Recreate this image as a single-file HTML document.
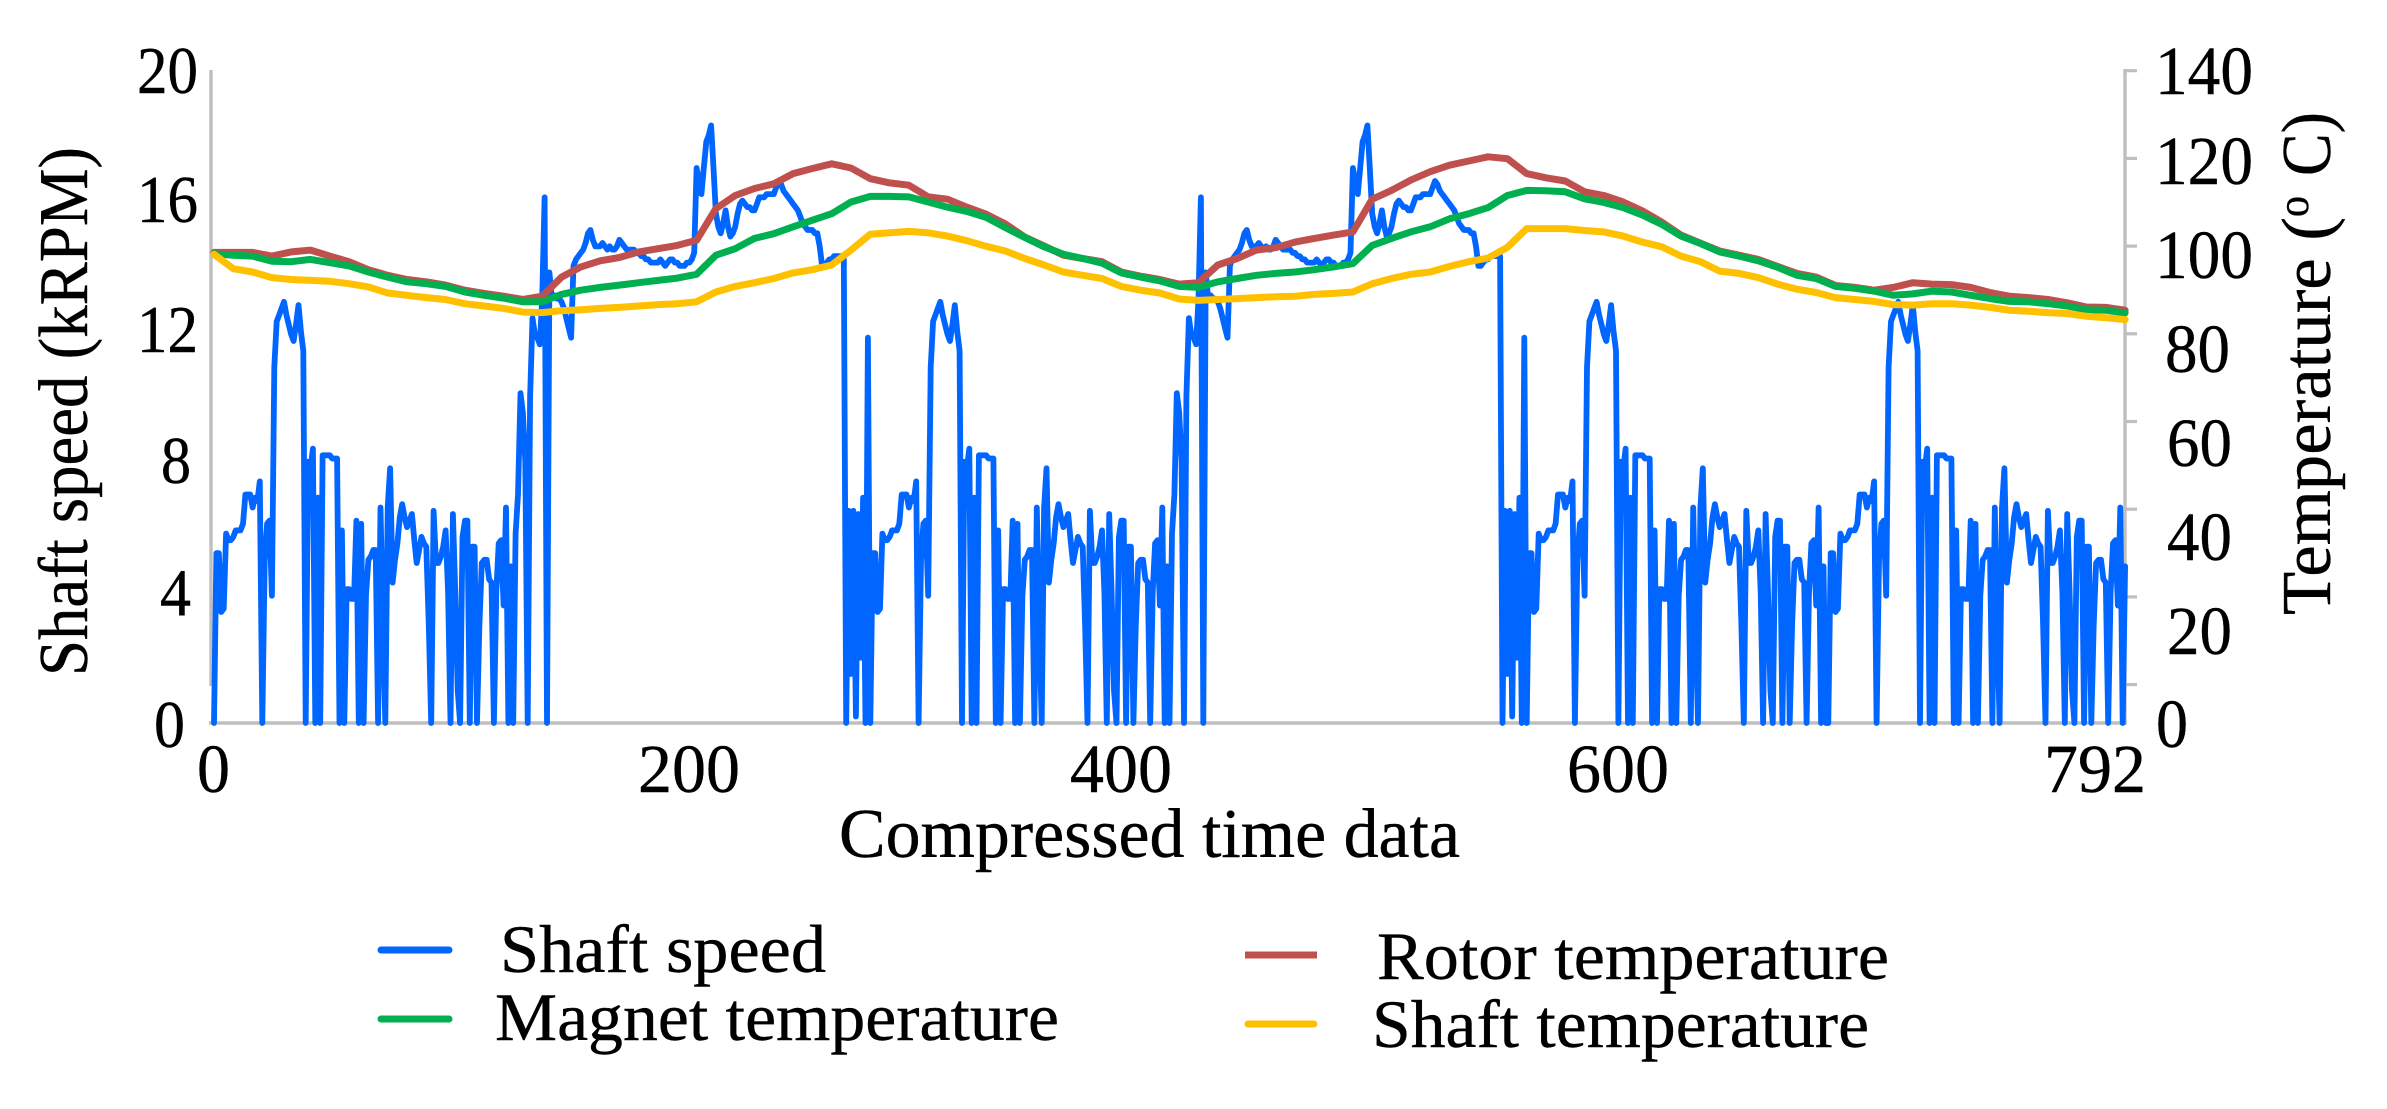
<!DOCTYPE html>
<html lang="en">
<head>
<meta charset="utf-8">
<title>Shaft speed and temperatures over compressed time</title>
<style>
html,body{margin:0;padding:0;background:#fff;width:2387px;height:1109px;overflow:hidden}
svg{display:block}
text{font-family:"Liberation Serif",serif;fill:#000;stroke:#000;stroke-width:.4px}
</style>
</head>
<body>
<svg id="chart" width="2387" height="1109" viewBox="0 0 2387 1109" xmlns="http://www.w3.org/2000/svg">
  <rect x="0" y="0" width="2387" height="1109" fill="#fff"/>
  <g id="axes"></g>
  <g id="series"></g>

  <g font-size="67">
    <text x="137" y="93" textLength="61" lengthAdjust="spacingAndGlyphs">20</text>
    <text x="137" y="222" textLength="61" lengthAdjust="spacingAndGlyphs">16</text>
    <text x="137" y="352" textLength="61" lengthAdjust="spacingAndGlyphs">12</text>
    <text x="161" y="483" textLength="30" lengthAdjust="spacingAndGlyphs">8</text>
    <text x="160" y="615" textLength="31" lengthAdjust="spacingAndGlyphs">4</text>
    <text x="154" y="747" textLength="31" lengthAdjust="spacingAndGlyphs">0</text>
  </g>
  <g font-size="69">
    <text x="2155" y="94" textLength="98" lengthAdjust="spacingAndGlyphs">140</text>
    <text x="2155" y="184" textLength="98" lengthAdjust="spacingAndGlyphs">120</text>
    <text x="2155" y="278" textLength="98" lengthAdjust="spacingAndGlyphs">100</text>
    <text x="2165" y="372" textLength="65" lengthAdjust="spacingAndGlyphs">80</text>
    <text x="2167" y="466" textLength="65" lengthAdjust="spacingAndGlyphs">60</text>
    <text x="2167" y="560" textLength="65" lengthAdjust="spacingAndGlyphs">40</text>
    <text x="2167" y="654" textLength="65" lengthAdjust="spacingAndGlyphs">20</text>
    <text x="2156" y="747" textLength="32" lengthAdjust="spacingAndGlyphs">0</text>
  </g>
  <g font-size="69">
    <text x="197" y="792" textLength="33" lengthAdjust="spacingAndGlyphs">0</text>
    <text x="638" y="792" textLength="102" lengthAdjust="spacingAndGlyphs">200</text>
    <text x="1070" y="792" textLength="102" lengthAdjust="spacingAndGlyphs">400</text>
    <text x="1567" y="792" textLength="102" lengthAdjust="spacingAndGlyphs">600</text>
    <text x="2044" y="792" textLength="102" lengthAdjust="spacingAndGlyphs">792</text>
  </g>

  <text x="839" y="857" font-size="70" textLength="621" lengthAdjust="spacingAndGlyphs">Compressed time data</text>
  <text transform="translate(87,676) rotate(-90)" font-size="70" textLength="529" lengthAdjust="spacingAndGlyphs">Shaft speed (kRPM)</text>
  <g>
    <text transform="translate(2330,615) rotate(-90)" font-size="70" textLength="398" lengthAdjust="spacingAndGlyphs">Temperature (</text>
    <text transform="translate(2308,217) rotate(-90)" font-size="44" textLength="21" lengthAdjust="spacingAndGlyphs">o</text>
    <text transform="translate(2330,176) rotate(-90)" font-size="70" textLength="64" lengthAdjust="spacingAndGlyphs">C)</text>
  </g>

  <g>
    <g>
      <line x1="381" x2="449" y1="950" y2="950" stroke="#0066ff" stroke-width="7" stroke-linecap="round"/>
      <text x="500" y="972" font-size="68" textLength="326" lengthAdjust="spacingAndGlyphs">Shaft speed</text>
    </g>
    <g>
      <line x1="381" x2="449" y1="1019" y2="1019" stroke="#00b050" stroke-width="7" stroke-linecap="round"/>
      <text x="495" y="1040" font-size="68" textLength="564" lengthAdjust="spacingAndGlyphs">Magnet temperature</text>
    </g>
    <g>
      <line x1="1245" x2="1317" y1="955" y2="955" stroke="#c0504d" stroke-width="7"/>
      <text x="1377" y="979" font-size="68" textLength="512" lengthAdjust="spacingAndGlyphs">Rotor temperature</text>
    </g>
    <g>
      <line x1="1248" x2="1314" y1="1024" y2="1024" stroke="#ffc000" stroke-width="7" stroke-linecap="round"/>
      <text x="1372" y="1047" font-size="68" textLength="497" lengthAdjust="spacingAndGlyphs">Shaft temperature</text>
    </g>
  </g>
</svg>

<script>
// Shaft speed in kRPM, one reading per compressed-time step (0..792)
const shaftSpeed = [
0,5.2,5.2,3.4,3.5,5.8,5.6,5.6,5.7,5.9,5.9,5.9,6.1,7,7,7,6.6,6.9,6.8,7.4,0,5,6.1,6.2,3.9,10.9,12.3,12.5,12.7,12.9,12.5,12.2,11.9,11.7,12.2,12.8,12,11.4,0,8,7.8,8.4,0,6.9,0,8.2,8.2,8.2,8.2,8.1,8.1,8.1,0,5.9,0,4.1,4.1,3.8,3.8,6.2,0,6.1,0,3.9,5,5.1,5.3,5.3,0,6.6,3,0,6.6,7.8,4.3,5,5.5,6.3,6.7,6.3,6,6.2,6.4,5.6,4.9,5.3,5.7,5.5,5.4,3,0,6.5,4.9,4.9,5.1,5.4,5.9,4,0,6.4,4,1,0,5.7,6.2,6.2,0,5.4,5.4,0,3,4.9,5,5,4.4,4.3,0,4,5.5,5.6,3.6,6.6,0,4.8,0,5.8,7,10.1,9.5,8,0,10,12.4,11.9,11.8,11.6,13,16.1,0,
13.8,13,13.1,13,13,12.9,12.7,12.4,12.1,11.8,14,14.2,14.3,14.4,14.5,14.7,15,15.1,14.8,14.6,14.6,14.6,14.7,14.6,14.5,14.6,14.5,14.5,14.6,14.8,14.7,14.6,14.5,14.5,14.5,14.5,14.4,14.4,14.3,14.3,14.2,14.2,14.1,14.1,14.1,14.1,14.2,14.1,14,14.1,14.2,14.2,14.1,14.1,14,14,14,14.1,14.1,14.2,14.4,17,16.6,16.2,17,17.8,18,18.3,17,15.6,15.2,15,15.3,15.7,15.2,14.9,15,15.2,15.6,15.9,16,15.9,15.8,15.8,15.7,15.7,15.9,16.1,16.1,16.1,16.2,16.2,16.2,16.2,16.4,16.6,16.5,16.3,16.2,16.1,16,15.9,15.8,15.7,15.5,15.3,15.2,15.1,15.1,15.1,15,15,14.6,14,14,14.1,14.2,14.2,14.3,14.3,14.3,14.3,14.3,
0,6.5,1.5,6.5,0.2,6.4,2,6.9,0,11.8,
0,5.2,5.2,3.4,3.5,5.8,5.6,5.6,5.7,5.9,5.9,5.9,6.1,7,7,7,6.6,6.9,6.8,7.4,0,5,6.1,6.2,3.9,10.9,12.3,12.5,12.7,12.9,12.5,12.2,11.9,11.7,12.2,12.8,12,11.4,0,8,7.8,8.4,0,6.9,0,8.2,8.2,8.2,8.2,8.1,8.1,8.1,0,5.9,0,4.1,4.1,3.8,3.8,6.2,0,6.1,0,3.9,5,5.1,5.3,5.3,0,6.6,3,0,6.6,7.8,4.3,5,5.5,6.3,6.7,6.3,6,6.2,6.4,5.6,4.9,5.3,5.7,5.5,5.4,3,0,6.5,4.9,4.9,5.1,5.4,5.9,4,0,6.4,4,1,0,5.7,6.2,6.2,0,5.4,5.4,0,3,4.9,5,5,4.4,4.3,0,4,5.5,5.6,3.6,6.6,0,4.8,0,5.8,7,10.1,9.5,8,0,10,12.4,11.9,11.8,11.6,13,16.1,0,
13.8,13,13.1,13,13,12.9,12.7,12.4,12.1,11.8,14,14.2,14.3,14.4,14.5,14.7,15,15.1,14.8,14.6,14.6,14.6,14.7,14.6,14.5,14.6,14.5,14.5,14.6,14.8,14.7,14.6,14.5,14.5,14.5,14.5,14.4,14.4,14.3,14.3,14.2,14.2,14.1,14.1,14.1,14.1,14.2,14.1,14,14.1,14.2,14.2,14.1,14.1,14,14,14,14.1,14.1,14.2,14.4,17,16.6,16.2,17,17.8,18,18.3,17,15.6,15.2,15,15.3,15.7,15.2,14.9,15,15.2,15.6,15.9,16,15.9,15.8,15.8,15.7,15.7,15.9,16.1,16.1,16.1,16.2,16.2,16.2,16.2,16.4,16.6,16.5,16.3,16.2,16.1,16,15.9,15.8,15.7,15.5,15.3,15.2,15.1,15.1,15.1,15,15,14.6,14,14,14.1,14.2,14.2,14.3,14.3,14.3,14.3,14.3,
0,6.5,1.5,6.5,0.2,6.4,2,6.9,0,11.8,
0,5.2,5.2,3.4,3.5,5.8,5.6,5.6,5.7,5.9,5.9,5.9,6.1,7,7,7,6.6,6.9,6.8,7.4,0,5,6.1,6.2,3.9,10.9,12.3,12.5,12.7,12.9,12.5,12.2,11.9,11.7,12.2,12.8,12,11.4,0,8,7.8,8.4,0,6.9,0,8.2,8.2,8.2,8.2,8.1,8.1,8.1,0,5.9,0,4.1,4.1,3.8,3.8,6.2,0,6.1,0,3.9,5,5.1,5.3,5.3,0,6.6,3,0,6.6,7.8,4.3,5,5.5,6.3,6.7,6.3,6,6.2,6.4,5.6,4.9,5.3,5.7,5.5,5.4,3,0,6.5,4.9,4.9,5.1,5.4,5.9,4,0,6.4,4,1,0,5.7,6.2,6.2,0,5.4,5.4,0,3,4.9,5,5,4.4,4.3,0,4,5.5,5.6,3.6,6.6,0,4.8,0,
0,5.2,5.2,3.4,3.5,5.8,5.6,5.6,5.7,5.9,5.9,5.9,6.1,7,7,7,6.6,6.9,6.8,7.4,0,5,6.1,6.2,3.9,10.9,12.3,12.5,12.7,12.9,12.5,12.2,11.9,11.7,12.2,12.8,12,11.4,0,8,7.8,8.4,0,6.9,0,8.2,8.2,8.2,8.2,8.1,8.1,8.1,0,5.9,0,4.1,4.1,3.8,3.8,6.2,0,6.1,0,3.9,5,5.1,5.3,5.3,0,6.6,3,0,6.6,7.8,4.3,5,5.5,6.3,6.7,6.3,6,6.2,6.4,5.6,4.9,5.3,5.7,5.5,5.4,3,0,6.5,4.9,4.9,5.1,5.4,5.9,4,0,6.4,4,1,0,5.7,6.2,6.2,0,5.4,5.4,0,3,4.9,5,5,4.4,4.3,0,4,5.5,5.6,3.6,6.6,0,4.8
];

// Temperatures in degrees C, one reading every 8 compressed-time steps (0..792)
const rotorTemperature = [
100.9,100.9,100.9,100.1,101,101.4,100.1,98.9,97.2,96,95.1,94.6,93.9,92.8,92.1,91.5,90.8,91.5,95.6,97.8,
99.1,99.8,101,101.7,102.4,103.5,110.3,113.1,114.6,115.6,117.8,118.9,119.9,119,116.7,115.8,115.3,112.8,112.3,110.6,
109.1,107,104.2,102.3,100.3,99.6,98.9,96.7,95.8,95.1,94.1,94.4,98.2,99.6,101.4,101.9,103.1,103.9,104.6,105.3,
112.3,114.2,116.4,118.2,119.6,120.5,121.4,121,117.8,116.9,116.2,113.9,113.1,111.7,109.8,107.4,104.6,102.9,101.2,100.3,
99.4,97.9,96.4,95.6,93.8,93.4,92.8,93.4,94.4,94.1,94,93.4,92.3,91.5,91.2,90.8,90.1,89.2,89.1,88.5
];
const magnetTemperature = [
100.6,100.3,100.1,99,98.9,99.4,98.7,98,96.7,95.6,94.6,94.2,93.6,92.4,91.7,91.1,90.3,90.3,91.9,92.8,
93.4,93.9,94.4,94.9,95.4,96.2,100.3,101.7,103.9,104.9,106.4,107.8,109.2,111.7,112.9,112.9,112.8,111.7,110.6,109.7,
108.4,106.2,104.1,102.1,100.5,99.6,98.6,96.5,95.6,94.8,93.6,93.4,94.6,95.3,96,96.4,96.7,97.2,97.8,98.5,
102.4,103.9,105.3,106.4,108.1,109.2,110.5,113.1,114.2,114.1,113.9,112.4,111.6,110.5,108.9,106.9,104.4,102.8,101,100.1,
99.1,97.7,96,95.3,93.6,93.2,92.6,91.7,92,92.6,92.4,91.7,91,90.4,90.3,89.9,89.4,88.6,88.5,87.9
];
const shaftTemperature = [
100.5,97.4,96.7,95.5,95.1,94.9,94.7,94.2,93.5,92.2,91.7,91.2,90.8,89.9,89.4,88.9,88.1,88,88.4,88.6,
88.9,89.1,89.4,89.7,89.9,90.3,92.4,93.6,94.4,95.3,96.5,97.2,98.2,101.4,104.8,105.1,105.4,105.1,104.4,103.4,
102.2,101.2,99.6,98.2,96.7,96,95.3,93.6,92.8,92.2,90.9,90.6,90.8,91,91.2,91.4,91.5,91.9,92.1,92.4,
94.2,95.3,96.2,96.7,97.9,98.9,99.7,102,106,106,106,105.6,105.3,104.4,103.1,102.1,100.1,98.9,96.9,96.4,
95.5,94.1,93,92.3,91.2,90.8,90.4,89.7,89.6,89.9,89.9,89.6,89.1,88.5,88.3,88,87.8,87.2,86.9,86.5
];
// Number of compressed-time steps between consecutive readings of each kind
const speedStep = [1];
const temperatureStep = [8];
// Right-axis tick mark values
const rightTickValues = [140,120,100,80,60,40,20,0];

const svgNS = 'http://www.w3.org/2000/svg';
const xScale = t => 214 + t * 2.413;
const speedY = v => 723 - v * 32.65;
const tempY = c => 723 - c * 4.664;
const tickY = c => 684.6 - c * 4.385;

const axes = document.getElementById('axes');
const seriesGroup = document.getElementById('series');

function axisLine(x1, y1, x2, y2, w) {
  const l = document.createElementNS(svgNS, 'line');
  l.setAttribute('x1', x1);
  l.setAttribute('y1', y1);
  l.setAttribute('x2', x2);
  l.setAttribute('y2', y2);
  l.setAttribute('stroke', '#bfbfbf');
  l.setAttribute('stroke-width', w);
  axes.appendChild(l);
  return l;
}

const leftAxis = axisLine(211, 70, 211, 686, 3.4);



const bottomAxis = axisLine(209, 723, 2127, 723, 3.4);



const rightAxis = axisLine(2125, 69, 2125, 725, 3.4);



rightTickValues.forEach(function (c) {
  const t = axisLine(2125, tickY(c), 2137, tickY(c), 3.2);
  
  
});

function drawSeries(values, step, yFn, color, width) {
  const pts = values.map(function (v, i) {
    return xScale(i * step).toFixed(1) + ',' + yFn(v).toFixed(1);
  }).join(' ');
  const p = document.createElementNS(svgNS, 'polyline');
  p.setAttribute('points', pts);
  p.setAttribute('fill', 'none');
  p.setAttribute('stroke', color);
  p.setAttribute('stroke-width', width);
  p.setAttribute('stroke-linejoin', 'round');
  p.setAttribute('stroke-linecap', 'round');
  seriesGroup.appendChild(p);
  return p;
}

const speedLine = drawSeries(shaftSpeed, speedStep[0], speedY, '#0066ff', 5.8);



const rotorLine = drawSeries(rotorTemperature, temperatureStep[0], tempY, '#c0504d', 7);



const magnetLine = drawSeries(magnetTemperature, temperatureStep[0], tempY, '#00b050', 7);



const shaftTempLine = drawSeries(shaftTemperature, temperatureStep[0], tempY, '#ffc000', 7);


</script>
</body>
</html>
